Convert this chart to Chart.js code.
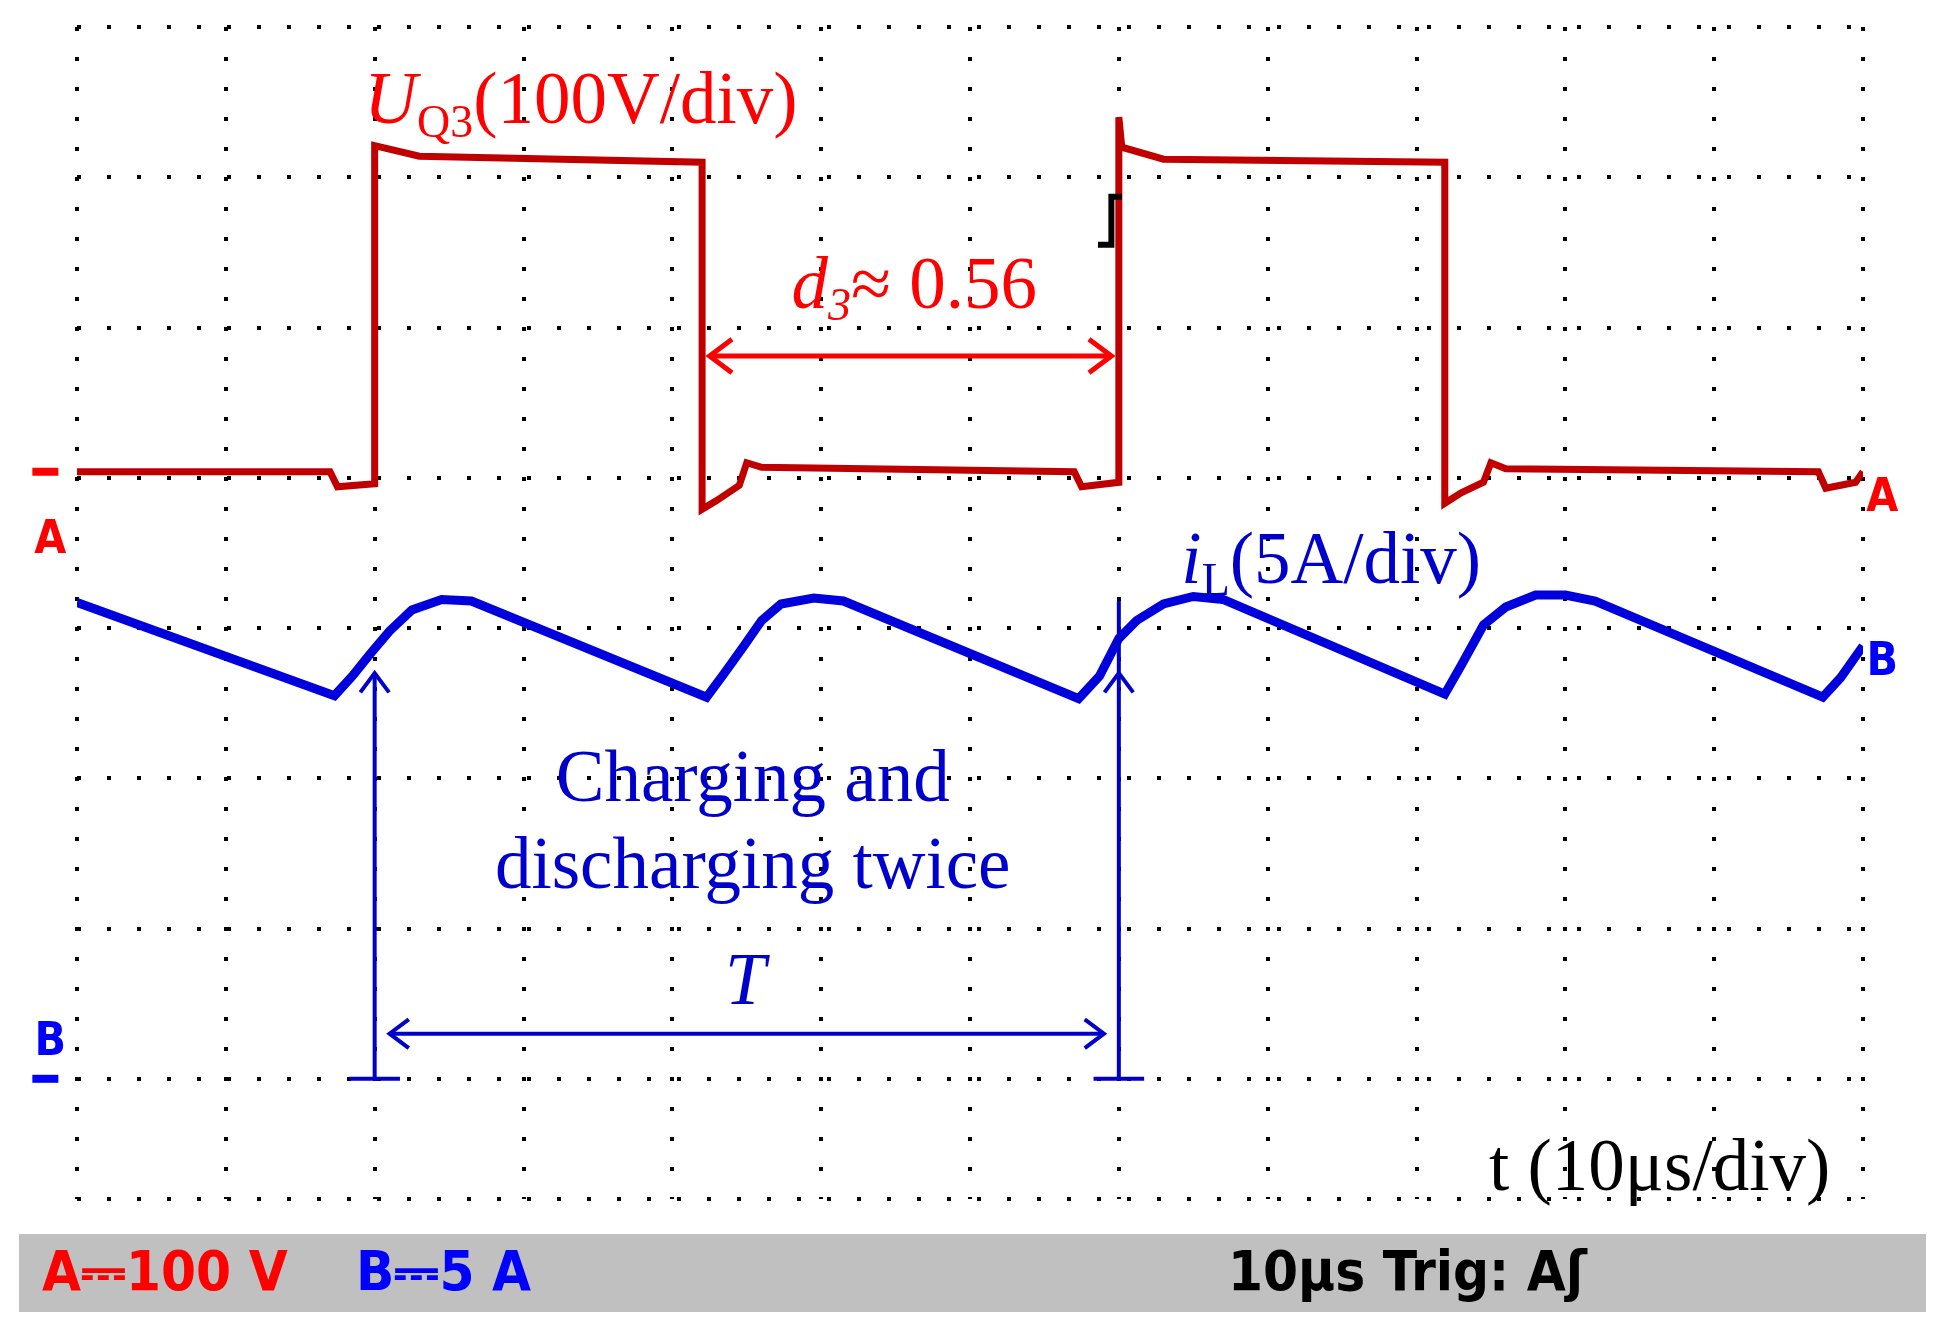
<!DOCTYPE html>
<html>
<head>
<meta charset="utf-8">
<script src="https://cdn.jsdelivr.net/npm/chart.js@4"></script>
<style>
  html, body { margin: 0; padding: 0; background: #fff; }
  canvas { display: block; }
</style>
</head>
<body>
<canvas id="scope" width="1935" height="1324"></canvas>
<script>
// --- DATA (x in time divisions, y in screen divisions from bottom) ---
const xTicks = [0, 1, 2, 3, 4, 5, 6, 7, 8, 9, 10, 11, 12];
const yTicks = [0.2, 1, 2, 3, 4, 5, 6, 7, 8];

const uq3X = [0, 1.7, 1.75, 2.0, 2.0, 2.3, 4.2, 4.2, 4.3, 4.45, 4.5, 4.6, 6.7, 6.75, 7.0, 7.0, 7.02, 7.3, 9.19, 9.19, 9.3, 9.45, 9.5, 9.6, 11.7, 11.75, 11.95, 12];
const uq3Y = [5.04, 5.04, 4.94, 4.96, 7.21, 7.14, 7.10, 4.79, 4.85, 4.95, 5.10, 5.07, 5.04, 4.94, 4.97, 7.40, 7.20, 7.12, 7.10, 4.83, 4.90, 4.97, 5.10, 5.06, 5.04, 4.93, 4.97, 5.04];

const iLX = [0, 1.73, 1.85, 1.98, 2.1, 2.25, 2.45, 2.65, 4.23, 4.35, 4.48, 4.6, 4.73, 4.95, 5.15, 6.73, 6.87, 7.0, 7.12, 7.3, 7.5, 7.7, 9.19, 9.3, 9.45, 9.6, 9.8, 10.0, 10.2, 11.73, 11.85, 12];
const iLY = [4.17, 3.55, 3.68, 3.84, 3.98, 4.12, 4.19, 4.18, 3.54, 3.70, 3.88, 4.05, 4.16, 4.20, 4.18, 3.53, 3.68, 3.93, 4.05, 4.16, 4.21, 4.19, 3.56, 3.75, 4.02, 4.14, 4.22, 4.22, 4.18, 3.54, 3.67, 3.88];

const toPoints = (xs, ys) => xs.map((x, i) => ({ x: x, y: ys[i] }));

// --- ANNOTATIONS ---
const serif = '"Liberation Serif", "Times New Roman", serif';
const pixelFont = '"DejaVu Sans Condensed", "DejaVu Sans", sans-serif';

function arrowHead(ctx, x, y, dir, size) {
    ctx.beginPath();
    ctx.moveTo(x + Math.cos(dir + 2.5) * size, y + Math.sin(dir + 2.5) * size);
    ctx.lineTo(x, y);
    ctx.lineTo(x + Math.cos(dir - 2.5) * size, y + Math.sin(dir - 2.5) * size);
    ctx.stroke();
}

const annotations = {
    id: 'annotations',
    afterDraw(chart) {
        const ctx = chart.ctx;
        const sx = chart.scales.x, sy = chart.scales.y;
        const X = v => sx.getPixelForValue(v), Y = v => sy.getPixelForValue(v);
        ctx.save();
        ctx.lineCap = 'butt';
        const big = '73px ', sub = '46px ';

        // red label
        ctx.fillStyle = '#ff0000';
        ctx.textBaseline = 'alphabetic';
        ctx.font = 'italic ' + big + serif;
        let x = X(1.93), y = Y(7.36);
        ctx.fillText('U', x, y);
        x += ctx.measureText('U').width;
        ctx.font = sub + serif;
        ctx.fillText('Q3', x, y + 14);
        x += ctx.measureText('Q3').width;
        ctx.font = big + serif;
        ctx.fillText('(100V/div)', x, y);

        // d3 label and arrow
        ctx.font = 'italic ' + big + serif;
        x = X(4.8); y = Y(6.13);
        ctx.fillText('d', x, y);
        x += ctx.measureText('d').width;
        ctx.font = 'italic ' + sub + serif;
        ctx.fillText('3', x, y + 12);
        x += ctx.measureText('3').width;
        ctx.font = big + serif;
        ctx.fillText('\u2248 0.56', x, y);

        ctx.strokeStyle = '#ff0000';
        ctx.lineWidth = 5;
        const ay = Y(5.81);
        ctx.beginPath(); ctx.moveTo(X(4.25), ay); ctx.lineTo(X(6.95), ay); ctx.stroke();
        arrowHead(ctx, X(4.25), ay, Math.PI, 28);
        arrowHead(ctx, X(6.95), ay, 0, 28);

        // trigger mark
        ctx.strokeStyle = '#000';
        ctx.lineWidth = 6;
        ctx.beginPath();
        ctx.moveTo(X(6.86), Y(6.55)); ctx.lineTo(X(6.95), Y(6.55));
        ctx.lineTo(X(6.95), Y(6.87)); ctx.lineTo(X(7.02), Y(6.87));
        ctx.stroke();

        // blue label
        ctx.fillStyle = '#0000cc';
        ctx.font = 'italic ' + big + serif;
        x = X(7.42); y = Y(4.3);
        ctx.fillText('i', x, y);
        x += ctx.measureText('i').width;
        ctx.font = sub + serif;
        ctx.fillText('L', x, y + 12);
        x += ctx.measureText('L').width;
        ctx.font = big + serif;
        ctx.fillText('(5A/div)', x, y);

        ctx.textAlign = 'center';
        ctx.font = big + serif;
        ctx.fillText('Charging and', X(4.54), Y(2.85));
        ctx.fillText('discharging twice', X(4.54), Y(2.27));
        ctx.font = 'italic ' + big + serif;
        ctx.fillText('T', X(4.49), Y(1.5));

        // T markers
        ctx.strokeStyle = '#0000cc';
        ctx.lineWidth = 4;
        [2.0, 7.0].forEach(v => {
            ctx.beginPath();
            ctx.moveTo(X(v), v === 7.0 ? Y(4.18) : Y(3.7));
            ctx.lineTo(X(v), Y(1.0));
            ctx.moveTo(X(v - 0.17), Y(1.0)); ctx.lineTo(X(v + 0.17), Y(1.0));
            ctx.stroke();
            arrowHead(ctx, X(v), Y(3.7), -Math.PI / 2, 24);
        });
        const ty = Y(1.3);
        ctx.beginPath(); ctx.moveTo(X(2.1), ty); ctx.lineTo(X(6.9), ty); ctx.stroke();
        arrowHead(ctx, X(2.1), ty, Math.PI, 24);
        arrowHead(ctx, X(6.9), ty, 0, 24);

        // time label
        ctx.fillStyle = '#000';
        ctx.textAlign = 'right';
        ctx.font = big + serif;
        ctx.fillText('t (10\u03bcs/div)', X(11.78), Y(0.26));

        // channel markers
        ctx.textAlign = 'center';
        ctx.font = 'bold 46px ' + pixelFont;
        ctx.fillStyle = '#ff0000';
        ctx.fillRect(X(-0.3), Y(5.04) - 4, 26, 8);
        ctx.fillText('A', X(-0.18), Y(4.5));
        ctx.fillText('A', X(12.13), Y(4.78));
        ctx.fillStyle = '#0000ff';
        ctx.fillText('B', X(-0.18), Y(1.16));
        ctx.fillRect(X(-0.3), Y(1.0) - 4, 26, 8);
        ctx.fillText('B', X(12.13), Y(3.69));

        // status bar
        ctx.fillStyle = '#c0c0c0';
        ctx.fillRect(19, 1234, 1907, 78);
        ctx.textAlign = 'left';
        ctx.textBaseline = 'middle';
        ctx.font = 'bold 56px ' + pixelFont;
        ctx.fillStyle = '#ff0000';
        ctx.fillText('A\u2393100 V', 42, 1275);
        ctx.fillStyle = '#0000ff';
        ctx.fillText('B\u23935 A', 356, 1275);
        ctx.fillStyle = '#000';
        ctx.fillText('10\u03bcs Trig: A\u0283', 1228, 1275);
        ctx.restore();
    }
};

const gridOpts = {
    display: true,
    color: '#000',
    lineWidth: 4,
    drawTicks: false
};

new Chart(document.getElementById('scope').getContext('2d'), {
    type: 'line',
    data: {
        datasets: [
            {
                data: toPoints(uq3X, uq3Y),
                borderColor: '#c00000',
                borderWidth: 7,
                pointRadius: 0,
                tension: 0
            },
            {
                data: toPoints(iLX, iLY),
                borderColor: '#0000dd',
                borderWidth: 9,
                pointRadius: 0,
                tension: 0
            }
        ]
    },
    options: {
        responsive: false,
        animation: false,
        devicePixelRatio: 1,
        layout: { padding: { left: 77, right: 72, top: 27, bottom: 125 } },
        plugins: { legend: { display: false }, tooltip: { enabled: false } },
        scales: {
            x: {
                type: 'linear', min: 0, max: 12,
                afterBuildTicks: axis => { axis.ticks = xTicks.map(v => ({ value: v })); },
                grid: gridOpts,
                border: { display: false, dash: [4, 26] },
                ticks: { display: false }
            },
            y: {
                type: 'linear', min: 0.2, max: 8,
                afterBuildTicks: axis => { axis.ticks = yTicks.map(v => ({ value: v })); },
                grid: gridOpts,
                border: { display: false, dash: [4, 26] },
                ticks: { display: false }
            }
        }
    },
    plugins: [annotations]
});
</script>
</body>
</html>
